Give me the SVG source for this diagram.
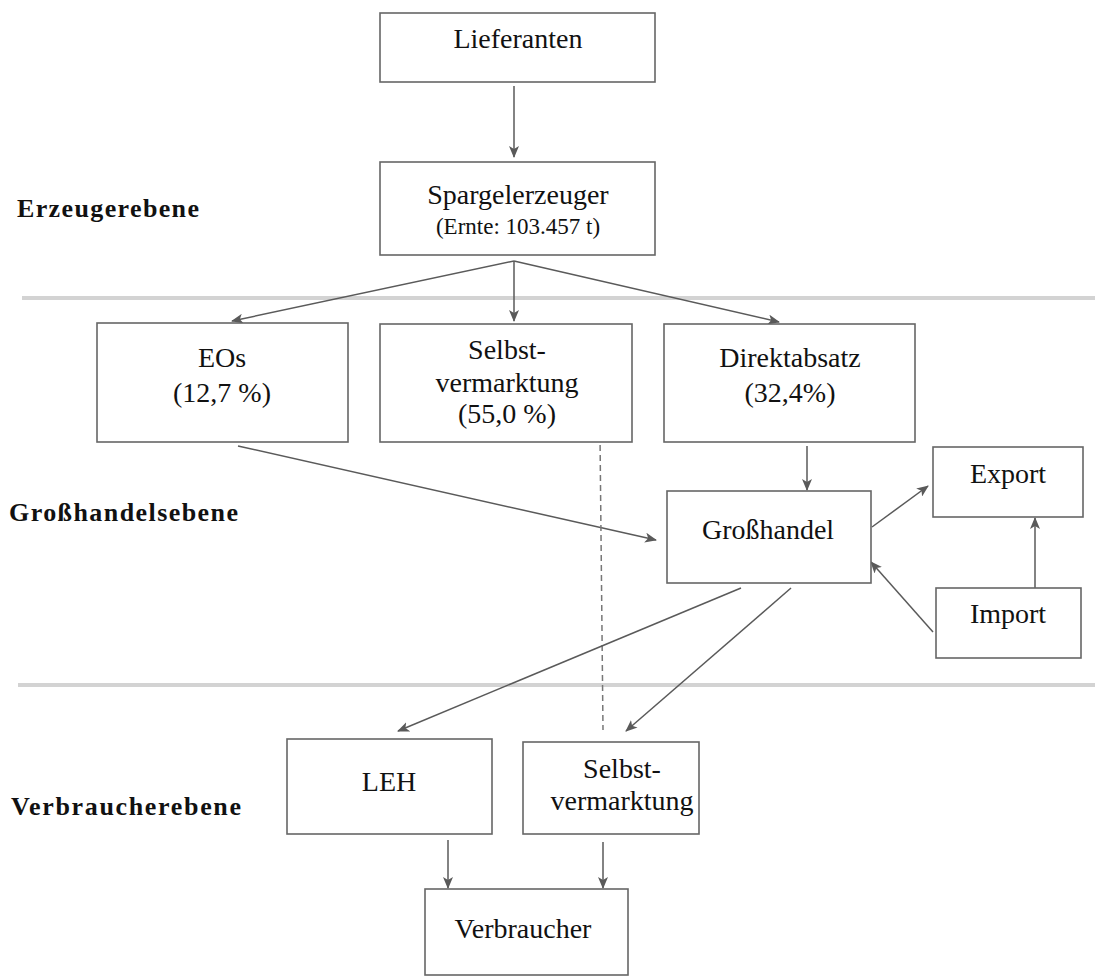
<svg xmlns="http://www.w3.org/2000/svg" width="1095" height="976" viewBox="0 0 1095 976">
<style>
.box{fill:#fff;stroke:#666;stroke-width:1.6}
.t{font-family:"Liberation Serif","Times New Roman",serif;font-size:28px;fill:#111;text-anchor:middle}
.s{font-size:23px}
.lvl{font-family:"Liberation Serif","Times New Roman",serif;font-size:26px;font-weight:bold;fill:#111}
.sep{stroke:#d3d3d3;stroke-width:4}
.c{stroke:#5a5a5a;stroke-width:1.5;fill:none;marker-end:url(#ah)}
.d{stroke:#777;stroke-width:1.5;fill:none;stroke-dasharray:6 4}
</style>
<defs>
<marker id="ah" markerUnits="userSpaceOnUse" markerWidth="12" markerHeight="10" refX="11" refY="5" orient="auto">
<path d="M0,0 L12,5 L0,10 L3,5 Z" fill="#5a5a5a"/>
</marker>
</defs>
<rect width="1095" height="976" fill="#fff"/>
<g id="separators">
<line class="sep" x1="22" y1="298" x2="1095" y2="298"/>
<line class="sep" x1="18" y1="685" x2="1095" y2="685"/>
</g>
<g id="levels">
<text class="lvl" x="17" y="217" textLength="182" lengthAdjust="spacing">Erzeugerebene</text>
<text class="lvl" x="9" y="521" textLength="229" lengthAdjust="spacing">Großhandelsebene</text>
<text class="lvl" x="11" y="815" textLength="230" lengthAdjust="spacing">Verbraucherebene</text>
</g>
<g id="connectors">
<line class="c" x1="514" y1="86" x2="514" y2="157"/>
<line class="c" x1="514" y1="261" x2="232" y2="321"/>
<line class="c" x1="514" y1="261" x2="514" y2="321"/>
<line class="c" x1="514" y1="261" x2="779" y2="322"/>
<line class="c" x1="238" y1="446" x2="656" y2="540"/>
<line class="d" x1="600" y1="435" x2="603" y2="730"/>
<line class="c" x1="807" y1="446" x2="807" y2="490"/>
<line class="c" x1="741" y1="588" x2="398" y2="731"/>
<line class="c" x1="791" y1="588" x2="626" y2="731"/>
<line class="c" x1="872" y1="527" x2="928" y2="486"/>
<line class="c" x1="933" y1="632" x2="871" y2="562"/>
<line class="c" x1="1035" y1="588" x2="1035" y2="518"/>
<line class="c" x1="448" y1="840" x2="448" y2="888"/>
<line class="c" x1="603" y1="842" x2="603" y2="888"/>
</g>
<g id="lieferanten">
<rect class="box" x="380" y="13" width="275" height="69"/>
<text class="t" x="518" y="48">Lieferanten</text>
</g>
<g id="spargelerzeuger">
<rect class="box" x="380" y="162" width="275" height="93"/>
<text class="t" x="518" y="204">Spargelerzeuger</text>
<text class="t s" x="518" y="234">(Ernte: 103.457 t)</text>
</g>
<g id="eos">
<rect class="box" x="97" y="323" width="251" height="119"/>
<text class="t" x="222" y="367">EOs</text>
<text class="t" x="222" y="402">(12,7 %)</text>
</g>
<g id="selbst1">
<rect class="box" x="380" y="324" width="252" height="118"/>
<text class="t" x="507" y="359">Selbst-</text>
<text class="t" x="507" y="392">vermarktung</text>
<text class="t" x="507" y="423">(55,0 %)</text>
</g>
<g id="direktabsatz">
<rect class="box" x="664" y="324" width="251" height="118"/>
<text class="t" x="790" y="367">Direktabsatz</text>
<text class="t" x="790" y="402">(32,4%)</text>
</g>
<g id="grosshandel">
<rect class="box" x="667" y="491" width="204" height="92"/>
<text class="t" x="768" y="539">Großhandel</text>
</g>
<g id="export">
<rect class="box" x="933" y="447" width="150" height="70"/>
<text class="t" x="1008" y="483">Export</text>
</g>
<g id="import">
<rect class="box" x="936" y="588" width="145" height="70"/>
<text class="t" x="1008" y="623">Import</text>
</g>
<g id="leh">
<rect class="box" x="287" y="739" width="205" height="95"/>
<text class="t" x="389" y="791">LEH</text>
</g>
<g id="selbst2">
<rect class="box" x="523" y="742" width="176" height="92"/>
<text class="t" x="622" y="778">Selbst-</text>
<text class="t" x="622" y="810">vermarktung</text>
</g>
<g id="verbraucher">
<rect class="box" x="425" y="889" width="203" height="86"/>
<text class="t" x="523" y="938">Verbraucher</text>
</g>
</svg>
